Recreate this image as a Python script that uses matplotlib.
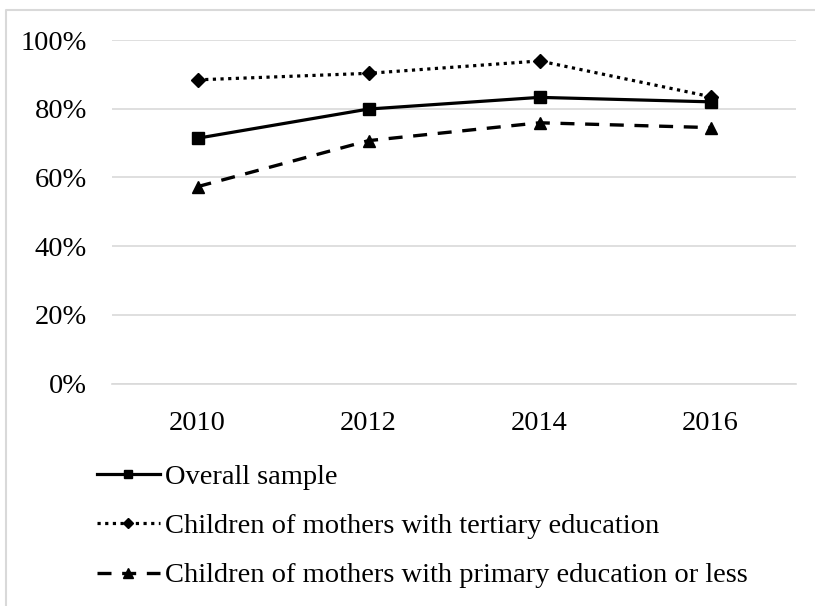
#!/usr/bin/env python3
"""Share of children by survey year, split by mother's education."""

import matplotlib
matplotlib.use('Agg')
import matplotlib.pyplot as plt
from matplotlib.lines import Line2D
from matplotlib.ticker import PercentFormatter

years = ['2010', '2012', '2014', '2016']
overall = [71.4, 79.9, 83.3, 82.0]
tertiary = [88.4, 90.3, 93.9, 83.5]
primary = [57.3, 70.7, 75.9, 74.5]

labels = ['Overall sample',
          'Children of mothers with tertiary education',
          'Children of mothers with primary education or less']

plt.rcParams['font.family'] = ['Liberation Serif', 'DejaVu Serif']
plt.rcParams['font.size'] = 20.5

fig = plt.figure(figsize=(8.15, 6.06), dpi=100)
ax = fig.add_axes([112 / 815, 1 - 383.5 / 606, 684 / 815, 343.5 / 606])

x = range(len(years))
ax.plot(x, overall, color='black', linewidth=2.3, marker='s', markersize=8.5,
        label=labels[0])
ax.plot(x, tertiary, color='black', linewidth=2.3, linestyle=(0, (1, 1.4)),
        marker='D', markersize=7, label=labels[1])
ax.plot(x, primary, color='black', linewidth=2.4, linestyle=(0, (4.2, 3.2)),
        marker='^', markersize=9, label=labels[2])

ax.set_xlim(-0.5, len(years) - 0.5)
ax.set_ylim(0, 100)
ax.set_yticks(range(0, 101, 20))
ax.yaxis.set_major_formatter(PercentFormatter(decimals=0))
ax.set_xticks(list(x))
ax.set_xticklabels(years)

ax.grid(axis='y', color='#d9d9d9', linewidth=1.2)
ax.set_axisbelow(True)
for side in ['top', 'right', 'left']:
    ax.spines[side].set_visible(False)
ax.spines['bottom'].set_color('#d9d9d9')
ax.spines['bottom'].set_linewidth(1.2)
ax.tick_params(axis='both', length=0)
ax.tick_params(axis='y', pad=18)
ax.tick_params(axis='x', pad=20)

fig.legend(loc='upper left', bbox_to_anchor=(97 / 815, 1 - 464 / 606),
           frameon=False, handlelength=2.2, handletextpad=0.2,
           labelspacing=0.82, borderaxespad=0, borderpad=0, markerscale=0.75)

# light chart-area border (left and top edges only)
left, top = 6 / 815, 1 - 10 / 606
fig.add_artist(Line2D([left, left, 1.0], [0.0, top, top],
                      transform=fig.transFigure, color='#d9d9d9',
                      linewidth=1.5))

fig.savefig('out.png', dpi=100)
